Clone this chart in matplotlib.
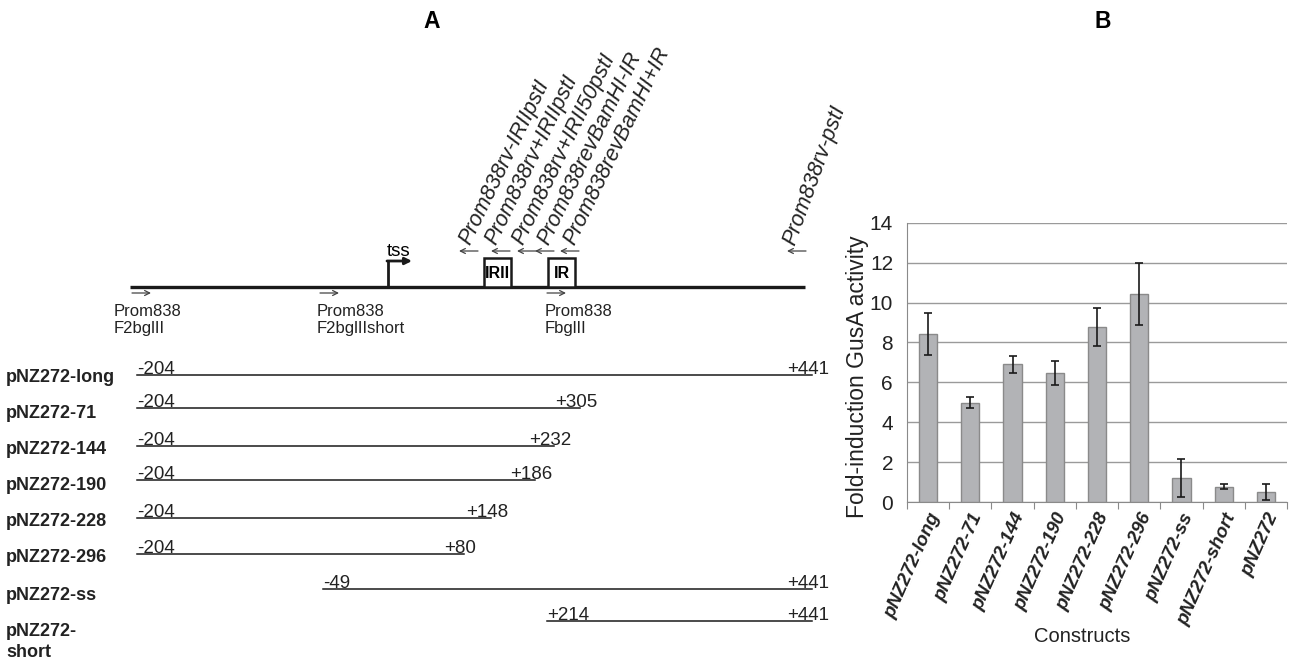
import matplotlib
matplotlib.use('Agg')
import matplotlib.pyplot as plt
import numpy as np

matplotlib.rcParams['font.family'] = ['Liberation Sans', 'DejaVu Sans']

# ---- panel A: promoter map ----
map_names = ['pNZ272-long', 'pNZ272-71', 'pNZ272-144', 'pNZ272-190',
             'pNZ272-228', 'pNZ272-296', 'pNZ272-ss', 'pNZ272-\nshort']
frag_start = ['-204', '-204', '-204', '-204', '-204', '-204', '-49', '+214']
frag_end = ['+441', '+305', '+232', '+186', '+148', '+80', '+441', '+441']
fwd_primers = ['Prom838\nF2bglII', 'Prom838\nF2bglIIshort', 'Prom838\nFbglII']
rev_primers = ['Prom838rv-IRIIpstI', 'Prom838rv+IRIIpstI', 'Prom838rv+IRII50pstI',
               'Prom838revBamHI-IR', 'Prom838revBamHI+IR', 'Prom838rv-pstI']
box_names = ['IRII', 'IR']

# ---- panel B: GusA activity ----
constructs = ['pNZ272-long', 'pNZ272-71', 'pNZ272-144', 'pNZ272-190', 'pNZ272-228',
              'pNZ272-296', 'pNZ272-ss', 'pNZ272-short', 'pNZ272']
fold_induction = [8.42, 4.97, 6.90, 6.47, 8.77, 10.42, 1.20, 0.77, 0.50]
fold_sd = [1.03, 0.28, 0.42, 0.62, 0.96, 1.55, 0.96, 0.11, 0.42]

# layout of the schematic (pixel-like units)
row_y = [375, 408, 446, 480, 518, 554, 589, 621]
label_y = [377, 413, 449, 485, 522, 558, 595, 642]
frag_x0 = [137, 137, 137, 137, 137, 137, 323, 547]
frag_x1 = [812, 580, 554, 535, 491, 464, 812, 812]
fwd_x = [132, 320, 547]
fwd_text_x = [114, 317, 545]
rev_x = [459, 491, 517, 535, 560, 787]
rev_text_x = [470, 496, 523, 548, 574, 795]
rev_rot = [64, 64, 64, 64, 64, 70]
box_x = [484, 548]

fig = plt.figure(figsize=(12.91, 6.62), dpi=100)

ax = fig.add_axes([0, 0, 1, 1])
ax.set_xlim(0, 1291)
ax.set_ylim(662, 0)
ax.axis('off')

ax.text(432, 21, 'A', fontsize=16.5, fontweight='bold', ha='center', va='center')
ax.text(1103, 21, 'B', fontsize=16.5, fontweight='bold', ha='center', va='center')

# main promoter line
ax.plot([130, 805], [287, 287], color='#1a1a1a', lw=2.4, solid_capstyle='butt')

# transcription start site
ax.plot([388, 388], [287, 261], color='#1a1a1a', lw=2)
ax.annotate('', xy=(412, 261), xytext=(387, 261),
            arrowprops=dict(arrowstyle='-|>', lw=2, color='#1a1a1a',
                            shrinkA=0, shrinkB=0, mutation_scale=10))
ax.text(387, 252, 'tss', fontsize=13.5, ha='left', va='center')

# inverted repeat boxes
for bx, name in zip(box_x, box_names):
    ax.add_patch(plt.Rectangle((bx, 258), 27, 29, fill=True, fc='white',
                               ec='#1a1a1a', lw=1.8, zorder=3))
    ax.text(bx + 13.5, 273, name, fontsize=11.5, fontweight='bold',
            ha='center', va='center', zorder=4)

# forward primers
for x, tx, name in zip(fwd_x, fwd_text_x, fwd_primers):
    ax.annotate('', xy=(x + 19, 293), xytext=(x, 293),
                arrowprops=dict(arrowstyle='->', lw=0.9, color='#444444',
                                shrinkA=0, shrinkB=0, mutation_scale=9))
    ax.text(tx, 320, name, fontsize=12, ha='left', va='center', linespacing=1.25,
            color='#222222')

# reverse primers
for x, tx, rot, name in zip(rev_x, rev_text_x, rev_rot, rev_primers):
    ax.annotate('', xy=(x, 251), xytext=(x + 19, 251),
                arrowprops=dict(arrowstyle='->', lw=0.9, color='#444444',
                                shrinkA=0, shrinkB=0, mutation_scale=9))
    ax.text(tx, 246, name, fontsize=15.5, style='italic', rotation=rot,
            rotation_mode='anchor', ha='left', va='baseline', color='#222222')

# deletion constructs
for i, name in enumerate(map_names):
    y = row_y[i]
    ax.plot([frag_x0[i], frag_x1[i]], [y, y], color='#1a1a1a', lw=1.1)
    ax.text(frag_x0[i], y - 1, frag_start[i], fontsize=13.5, ha='left',
            va='baseline', color='#222222')
    ax.text(frag_x1[i] - 4, y - 1, frag_end[i], fontsize=13.5, ha='center',
            va='baseline', color='#222222')
    ax.text(6, label_y[i], name, fontsize=13, fontweight='bold', ha='left',
            va='center', linespacing=1.35, color='#222222')

# ---- panel B ----
bx_ax = fig.add_axes([907 / 1291, 160 / 662, 380 / 1291, 279.3 / 662])
xpos = np.arange(len(constructs))
bx_ax.bar(xpos, fold_induction, width=0.43, color='#b2b3b6', edgecolor='#8a8a8a',
          lw=1, zorder=3)
bx_ax.errorbar(xpos, fold_induction, yerr=fold_sd, fmt='none', ecolor='#1a1a1a',
               elinewidth=1.2, capsize=2.6, capthick=1.2, zorder=4)
bx_ax.set_xlim(-0.5, len(constructs) - 0.5)
bx_ax.set_ylim(0, 14)
bx_ax.set_yticks(np.arange(0, 15, 2))
bx_ax.yaxis.grid(True, color='#9a9a9a', lw=1)
bx_ax.set_axisbelow(True)
bx_ax.tick_params(axis='y', length=0, labelsize=15, pad=10, labelcolor='#222222')
for s in ['top', 'right']:
    bx_ax.spines[s].set_visible(False)
bx_ax.spines['left'].set_color('#8a8a8a')
bx_ax.spines['bottom'].set_color('#8a8a8a')

bx_ax.set_xticks(np.arange(-0.5, len(constructs), 1), minor=False)
bx_ax.set_xticklabels([])
bx_ax.tick_params(axis='x', length=5, color='#8a8a8a')
bx_ax.set_xticks(xpos, minor=True)
bx_ax.set_xticklabels(constructs, minor=True, rotation=66, ha='right',
                      rotation_mode='anchor', fontsize=13.5, fontweight='bold',
                      style='italic', color='#222222')
bx_ax.tick_params(axis='x', which='minor', length=0, pad=6)

bx_ax.set_ylabel('Fold-induction GusA activity', fontsize=16.5, color='#222222')
bx_ax.yaxis.set_label_coords(-0.1, 0.45)
bx_ax.set_xlabel('Constructs', fontsize=14.5, color='#222222')
bx_ax.xaxis.set_label_coords(0.46, -0.447)

fig.savefig('out.png', dpi=100)
